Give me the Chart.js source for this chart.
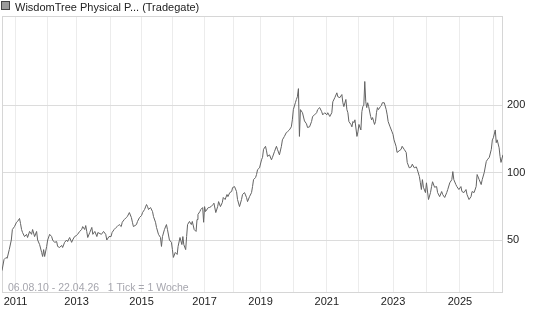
<!DOCTYPE html>
<html>
<head>
<meta charset="utf-8">
<script src="https://cdn.jsdelivr.net/npm/chart.js@4.4.1/dist/chart.umd.min.js"></script>
<style>
  html, body { margin: 0; padding: 0; background: #fff; }
  canvas { display: block; }
</style>
</head>
<body>
<canvas id="chart" width="545" height="327"></canvas>
<script>
const seriesName = 'WisdomTree Physical P... (Tradegate)';
const rangeNote = '06.08.10 - 22.04.26   1 Tick = 1 Woche';
const dateRange = [2010.596, 2026.305];
// the x axis counts weekly ticks, so each calendar year is as wide as its number of quotes
const quoteYears = [2010, 2011, 2012, 2013, 2014, 2015, 2016, 2017, 2018, 2019, 2020, 2021, 2022, 2023, 2024, 2025, 2026];
const weeksPerYear = [21, 50, 45, 52, 49, 48, 50, 45, 42, 51, 52, 50, 53, 52, 52, 52, 15];
const yearLabels = ['2011', '2013', '2015', '2017', '2019', '2021', '2023', '2025'];
const priceTicks = [50, 100, 200];

// decimal years of the readings and the prices at those dates
const years = [
  2010.596, 2010.656, 2010.719, 2010.750, 2010.813, 2010.875, 2010.906, 2010.969,
  2011.031, 2011.063, 2011.125, 2011.156, 2011.188, 2011.219, 2011.281, 2011.344, 2011.375, 2011.438,
  2011.500, 2011.531, 2011.594, 2011.656, 2011.688, 2011.750, 2011.813, 2011.844, 2011.875, 2011.906, 2011.969,
  2012.000, 2012.069, 2012.138, 2012.172, 2012.241, 2012.310, 2012.345, 2012.414, 2012.483, 2012.517,
  2012.586, 2012.655, 2012.690, 2012.759, 2012.828, 2012.862, 2012.931,
  2013.000, 2013.030, 2013.091, 2013.152, 2013.182, 2013.242, 2013.273, 2013.303, 2013.333, 2013.394,
  2013.455, 2013.485, 2013.545, 2013.606, 2013.636, 2013.742, 2013.806, 2013.871, 2013.903, 2013.968,
  2014.032, 2014.065, 2014.129, 2014.194, 2014.226, 2014.290, 2014.355, 2014.387, 2014.452, 2014.516,
  2014.548, 2014.613, 2014.677, 2014.710, 2014.742, 2014.839, 2014.871, 2014.935,
  2015.000, 2015.032, 2015.097, 2015.161, 2015.194, 2015.226, 2015.290, 2015.355, 2015.387, 2015.452,
  2015.484, 2015.548, 2015.613, 2015.645, 2015.677, 2015.742, 2015.806, 2015.839, 2015.903, 2015.968,
  2016.000, 2016.029, 2016.088, 2016.147, 2016.176, 2016.235, 2016.294, 2016.324, 2016.353, 2016.412,
  2016.441, 2016.471, 2016.529, 2016.588, 2016.618, 2016.676, 2016.735, 2016.765, 2016.794, 2016.853,
  2016.882, 2016.941, 2016.970,
  2017.000, 2017.032, 2017.129, 2017.161, 2017.226, 2017.290, 2017.323, 2017.387, 2017.452, 2017.484,
  2017.548, 2017.613, 2017.645, 2017.710, 2017.774, 2017.806, 2017.871, 2017.935, 2017.968,
  2018.037, 2018.111, 2018.148, 2018.222, 2018.296, 2018.333, 2018.407, 2018.481, 2018.519, 2018.593,
  2018.667, 2018.704, 2018.741, 2018.815, 2018.852, 2018.889, 2018.963,
  2019.030, 2019.061, 2019.091, 2019.152, 2019.182, 2019.212, 2019.273, 2019.333, 2019.364, 2019.424,
  2019.485, 2019.515, 2019.576, 2019.636, 2019.667, 2019.727, 2019.788, 2019.818, 2019.879, 2019.939, 2019.970,
  2020.000, 2020.061, 2020.091, 2020.121, 2020.152, 2020.182, 2020.212, 2020.273, 2020.333, 2020.394,
  2020.424, 2020.485, 2020.545, 2020.576, 2020.636, 2020.697, 2020.727, 2020.788, 2020.848, 2020.879, 2020.939,
  2021.000, 2021.031, 2021.094, 2021.156, 2021.188, 2021.250, 2021.313, 2021.344, 2021.406, 2021.469,
  2021.500, 2021.531, 2021.594, 2021.625, 2021.656, 2021.688, 2021.750, 2021.781, 2021.813, 2021.844,
  2021.875, 2021.938, 2021.969,
  2022.000, 2022.057, 2022.086, 2022.114, 2022.143, 2022.171, 2022.200, 2022.229, 2022.257, 2022.286,
  2022.343, 2022.371, 2022.400, 2022.457, 2022.486, 2022.514, 2022.543, 2022.571, 2022.629, 2022.657,
  2022.686, 2022.743, 2022.800, 2022.829, 2022.857, 2022.914, 2022.971,
  2023.000, 2023.030, 2023.091, 2023.121, 2023.182, 2023.242, 2023.273, 2023.333, 2023.394, 2023.424,
  2023.485, 2023.545, 2023.576, 2023.636, 2023.697, 2023.727, 2023.788, 2023.818, 2023.848, 2023.879,
  2023.909, 2023.970,
  2024.000, 2024.061, 2024.121, 2024.152, 2024.182, 2024.242, 2024.303, 2024.333, 2024.394, 2024.455,
  2024.485, 2024.545, 2024.606, 2024.636, 2024.697, 2024.758, 2024.788, 2024.818, 2024.879, 2024.909, 2024.970,
  2025.030, 2025.061, 2025.121, 2025.182, 2025.212, 2025.273, 2025.333, 2025.364, 2025.424, 2025.485,
  2025.515, 2025.576, 2025.636, 2025.667, 2025.727, 2025.788, 2025.818, 2025.879, 2025.939, 2025.970,
  2026.000, 2026.061, 2026.091, 2026.121, 2026.182, 2026.212, 2026.242, 2026.303
];
const prices = [
  36.5, 40.9, 41.8, 41.4, 45.3, 50.0, 55.7, 57.4,
  60.0, 60.5, 62.4, 59.2, 55.7, 54.0, 51.8, 53.0, 51.3, 54.6,
  53.0, 55.7, 51.8, 54.6, 50.0, 47.7, 44.0, 42.2, 45.3, 42.2, 46.8,
  50.0, 53.0, 51.8, 50.0, 48.8, 49.2, 46.8, 46.3, 47.3, 46.3,
  48.8, 50.0, 49.2, 51.3, 48.8, 50.0, 51.8,
  52.4, 53.0, 54.6, 55.7, 57.4, 55.7, 58.0, 54.6, 51.3, 54.0,
  56.9, 53.0, 54.6, 51.8, 54.0, 53.0, 54.6, 53.0, 50.0, 51.8,
  51.8, 54.0, 55.7, 56.9, 57.4, 58.6, 57.4, 60.0, 61.7, 63.0,
  63.6, 66.3, 63.0, 60.0, 57.4, 58.6, 60.5, 63.0,
  64.3, 66.3, 68.4, 72.0, 70.5, 68.4, 69.8, 67.0, 63.6, 60.0,
  56.9, 53.0, 51.3, 46.8, 51.8, 55.7, 58.6, 55.7, 50.0, 48.8,
  45.3, 41.8, 44.0, 43.1, 46.8, 51.3, 47.7, 51.8, 47.7, 45.3,
  51.8, 58.6, 60.5, 58.6, 60.5, 55.7, 54.6, 61.7, 65.0, 67.0,
  68.4, 69.8, 60.0,
  70.5, 67.0, 69.8, 69.8, 70.5, 72.0, 73.0, 66.3, 70.5, 74.2,
  70.5, 73.5, 77.4, 75.8, 79.8, 78.1, 81.4, 82.3, 85.7,
  86.6, 82.3, 75.8, 70.5, 75.8, 79.8, 81.4, 77.4, 74.2, 78.1,
  81.4, 86.6, 93.0, 95.0, 98.0, 103, 105,
  114, 117, 127, 131, 125, 118, 120, 114, 117, 124,
  131, 127, 120, 131, 140, 145, 151, 152, 155, 160, 172,
  191, 205, 212, 218, 237, 145, 191, 185, 170, 165,
  159, 160, 169, 178, 181, 185, 191, 195, 187, 181, 185,
  181, 185, 178, 185, 207, 216, 227, 218, 216, 223,
  205, 197, 212, 191, 185, 169, 164, 160, 169, 167,
  172, 145, 152,
  164, 155, 187, 197, 200, 255, 207, 195, 205, 197,
  178, 172, 176, 164, 169, 185, 195, 191, 197, 199,
  205, 205, 191, 181, 169, 160, 152,
  148, 140, 131, 123, 125, 127, 131, 127, 123, 111,
  105, 106, 109, 105, 106, 103, 96, 90, 84, 93,
  86, 81.4,
  90, 75.8, 81.4, 86.6, 91, 86, 86.6, 81.4, 78.1, 82.3,
  79.8, 77.4, 81.4, 84, 90, 93, 101, 93, 88.4, 86.6, 84,
  86.6, 82.3, 81.4, 84, 79.8, 75.8, 78.1, 82.3, 81.4, 86.6,
  98, 93, 88.4, 93, 100, 112, 114, 117, 127, 140,
  143, 155, 136, 140, 129, 118, 111, 120
];

// week-tick index of the first quote of every year
const yearStart = [];
weeksPerYear.reduce((sum, n) => { yearStart.push(sum); return sum + n; }, 0);
const totalTicks = weeksPerYear.reduce((a, b) => a + b, 0);

function toTick(t) {
  for (let k = 0; k < quoteYears.length; k++) {
    const y0 = Math.max(quoteYears[k], dateRange[0]);
    const y1 = Math.min(quoteYears[k] + 1, dateRange[1]);
    if (t < y1 || k === quoteYears.length - 1) {
      return yearStart[k] + Math.max(0, (t - y0) / (y1 - y0)) * weeksPerYear[k];
    }
  }
}

const fontFamily = '"Liberation Sans", Arial, sans-serif';
Chart.defaults.font.family = fontFamily;
Chart.defaults.font.size = 11;
Chart.defaults.color = '#222';

// frame round the plot, legend box at the top, range note inside the plot
const frame = {
  id: 'frame',
  beforeDatasetsDraw(chart) {
    const {ctx, chartArea: a} = chart;
    ctx.save();
    ctx.strokeStyle = '#d6d6d6';
    ctx.lineWidth = 1;
    ctx.strokeRect(a.left + 0.5, a.top + 0.5, a.right - a.left - 1, a.bottom - a.top - 1);
    ctx.restore();
  },
  afterDraw(chart) {
    const {ctx, chartArea: a} = chart;
    ctx.save();
    ctx.fillStyle = '#9a9a9a';
    ctx.fillRect(1.5, 1.5, 8, 8);
    ctx.strokeStyle = '#444';
    ctx.lineWidth = 1;
    ctx.strokeRect(1.5, 1.5, 8, 8);
    ctx.font = '11px ' + fontFamily;
    ctx.textBaseline = 'alphabetic';
    ctx.fillStyle = '#222';
    ctx.fillText(seriesName, 15, 11);
    ctx.font = '10.5px ' + fontFamily;
    ctx.fillStyle = '#a6a6ae';
    ctx.fillText(rangeNote, a.left + 6, a.bottom - 2);
    ctx.restore();
  }
};

new Chart('chart', {
  type: 'line',
  data: {
    datasets: [{
      label: seriesName,
      data: years.map((t, i) => ({x: toTick(t), y: prices[i]})),
      borderColor: '#636363',
      borderWidth: 1,
      pointRadius: 0,
      fill: false,
      tension: 0
    }]
  },
  options: {
    responsive: false,
    animation: false,
    devicePixelRatio: 1,
    layout: {padding: {left: 2, top: 16, right: 0, bottom: 0}},
    plugins: {legend: {display: false}, tooltip: {enabled: false}},
    scales: {
      x: {
        type: 'linear',
        min: 0,
        max: totalTicks,
        afterBuildTicks: s => { s.ticks = yearStart.slice(1).map(v => ({value: v})); },
        afterFit: s => { s.height = 34; },
        ticks: {
          autoSkip: false,
          maxRotation: 0,
          padding: 2,
          callback: (v, i) => {
            const label = String(quoteYears[i + 1]);
            return yearLabels.includes(label) ? label : '';
          }
        },
        grid: {color: '#ececec', drawTicks: false},
        border: {display: false}
      },
      y: {
        type: 'logarithmic',
        position: 'right',
        min: 29,
        max: 500,
        afterBuildTicks: s => { s.ticks = priceTicks.map(v => ({value: v})); },
        afterFit: s => { s.width = 42; },
        ticks: {padding: 4, callback: v => String(v)},
        grid: {color: '#dcdcdc', drawTicks: false},
        border: {display: false}
      }
    }
  },
  plugins: [frame]
});
</script>
</body>
</html>
